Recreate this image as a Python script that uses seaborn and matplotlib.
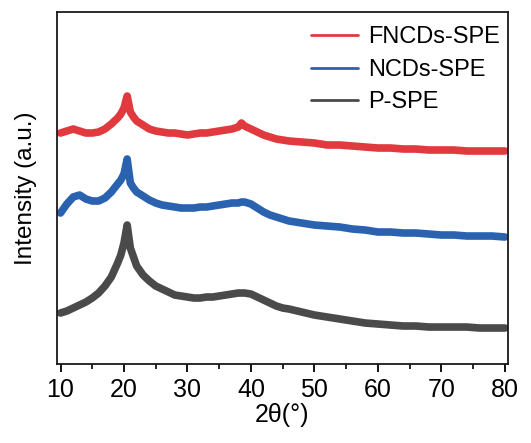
import numpy as np
import pandas as pd
import matplotlib
matplotlib.use("Agg")
import matplotlib.pyplot as plt
import seaborn as sns
from matplotlib.ticker import MultipleLocator

# 2theta grid (deg)
two_theta = [10, 11, 12, 13, 14, 15, 16, 17, 18, 19,
             19.5, 20, 20.5, 21, 21.5,
             22, 23, 24, 25, 26, 27, 28, 29, 30, 31, 32, 33, 34, 35, 36, 37, 38,
             38.5,
             39, 40, 41, 42, 43, 44, 45, 46,
             48, 50, 52, 54, 56, 58, 60, 62, 64, 66, 68, 70, 72, 74, 76, 78, 80]

fncds_spe = [310, 312, 314, 312, 310, 310, 311, 314, 319, 325,
             329, 335, 347, 331, 326,
             322, 318, 314, 312, 311, 310, 310, 309, 308, 309, 310, 310, 311, 312, 313, 314, 316,
             320,
             317, 314, 311, 308, 306, 304, 303, 302,
             301, 300, 298, 298, 297, 296, 295, 295, 294, 294, 293, 293, 293, 292, 292, 292, 292]

ncds_spe = [230, 239, 246, 248, 244, 242, 242, 245, 251, 259,
            263, 269, 284, 260, 255,
            251, 247, 243, 240, 238, 237, 236, 235, 235, 235, 236, 236, 237, 238, 239, 240, 240,
            241,
            241, 239, 235, 231, 228, 226, 224, 222,
            220, 218, 217, 216, 214, 213, 211, 211, 210, 210, 209, 208, 208, 207, 207, 207, 206]

p_spe = [130, 132, 135, 138, 141, 145, 150, 157, 166, 180,
         188, 200, 218, 195, 186,
         177, 168, 162, 157, 154, 151, 148, 147, 146, 145, 145, 146, 146, 147, 148, 149, 150,
         150,
         150, 149, 146, 143, 140, 137, 135, 134,
         131, 128, 126, 124, 122, 120, 119, 118, 117, 117, 116, 116, 116, 116, 115, 115, 115]

series_names = ["FNCDs-SPE", "NCDs-SPE", "P-SPE"]
x_ticks = [10, 20, 30, 40, 50, 60, 70, 80]

df = pd.concat([
    pd.DataFrame({"x": two_theta, "y": vals, "sample": name})
    for name, vals in zip(series_names, [fncds_spe, ncds_spe, p_spe])
], ignore_index=True)

sns.set_style("white")
plt.rcParams["font.family"] = ["Liberation Sans", "DejaVu Sans"]
plt.rcParams["text.color"] = "black"
plt.rcParams["axes.labelcolor"] = "black"
plt.rcParams["xtick.color"] = "black"

fig = plt.figure(figsize=(5.31, 4.43), dpi=100)
ax = fig.add_axes([0.1068, 0.1783, 0.8499, 0.7946])

palette = {"FNCDs-SPE": "#E03A3E", "NCDs-SPE": "#2A62B0", "P-SPE": "#4A4A4A"}
sns.lineplot(data=df, x="x", y="y", hue="sample", hue_order=series_names,
             palette=palette, linewidth=5.5, sort=False, estimator=None, ax=ax)

ax.set_xlim(9.4, 80.5)
ax.set_ylim(79, 431)
ax.set_xticks(x_ticks)
ax.xaxis.set_minor_locator(MultipleLocator(5))
ax.set_yticks([])
ax.tick_params(axis="x", which="major", direction="out", length=6, width=1.3,
               labelsize=18, bottom=True, top=False, pad=4, colors="black")
ax.tick_params(axis="x", which="minor", direction="out", length=3.5, width=1.2,
               bottom=True, top=False, colors="black")
for s in ax.spines.values():
    s.set_linewidth(1.3)
    s.set_color("#1a1a1a")

ax.set_xlabel("2θ(°)", fontsize=18, labelpad=1)
ax.set_ylabel("Intensity (a.u.)", fontsize=17.5, labelpad=14)

leg = ax.legend(loc="upper right", frameon=False, fontsize=17, handlelength=2.0,
                handletextpad=0.45, labelspacing=0.45, bbox_to_anchor=(1.03, 1.02))
for line in leg.get_lines():
    line.set_linewidth(2)

fig.savefig("out.png", dpi=100)
